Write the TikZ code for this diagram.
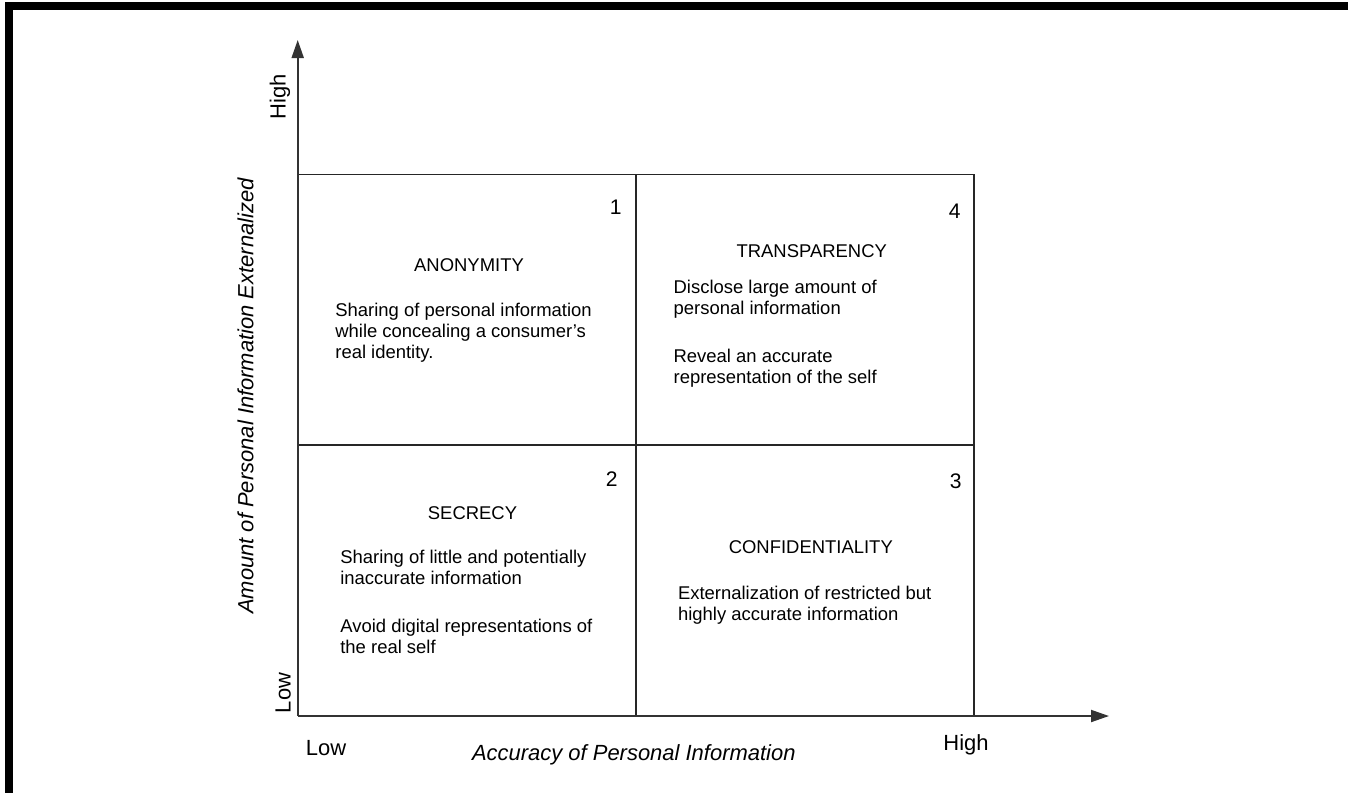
\documentclass[tikz,border=0pt]{standalone}
\usepackage{fontspec}
\setmainfont{Liberation Sans}
\usetikzlibrary{arrows.meta}

\begin{document}
\begin{tikzpicture}[x=0.02cm, y=-0.02cm,
	axis/.style={draw=black!80, line width=1.1pt, -{Triangle[length=0.36cm,width=0.24cm]}},
	grid/.style={draw=black!85, line width=1.1pt},
	num/.style={font=\fontsize{12}{14}\selectfont, anchor=base east, inner sep=0pt},
	head/.style={font=\fontsize{10.5}{12}\selectfont, anchor=base, inner sep=0pt},
	body/.style={font=\fontsize{10.5}{11.95}\selectfont, align=left, anchor=base west, inner sep=0pt},
	lbl/.style={font=\fontsize{12.5}{15}\selectfont, anchor=base, inner sep=0pt}]
	\useasboundingbox (0,0) rectangle (1348,792);
	% outer frame
	\draw[line width=0.16cm] (9,830) rectangle (1352,6);

	\coordinate (origin) at (297.7,716);
	\coordinate (ytop) at (297.7,40);
	\coordinate (xend) at (1109,716);
	\coordinate (tl) at (297.7,174.5);
	\coordinate (tm) at (635.7,174.5);
	\coordinate (tr) at (974.3,174.5);
	\coordinate (ml) at (297.7,445);
	\coordinate (mr) at (974.3,445);
	\coordinate (bm) at (635.7,716);
	\coordinate (br) at (974.3,716);

	% quadrants
	\draw[grid] (tl) -- (tr) -- (br);
	\draw[grid] (tm) -- (bm);
	\draw[grid] (ml) -- (mr);

	% axes
	\draw[axis] (origin) -- (ytop);
	\draw[axis] (origin) -- (xend);

	% 1 (body nodes sit on their last line)
	\node[num] (num1) at (622,214.3) {1};
	\node[head] (head1) at (469,271) {ANONYMITY};
	\node[body] (text1) at (335,358.3) {Sharing of personal information\\while concealing a consumer’s\\real identity.};
	% 4
	\node[num] (num4) at (961,218) {4};
	\node[head] (head4) at (811.7,257) {TRANSPARENCY};
	\node[body] (text4) at (673.3,383.3) {Disclose large amount of\\personal information\\[15.4pt]Reveal an accurate\\representation of the self};
	% 2
	\node[num] (num2) at (618,486.7) {2};
	\node[head] (head2) at (472.5,519) {SECRECY};
	\node[body] (text2) at (340,653.3) {Sharing of little and potentially\\inaccurate information\\[15.4pt]Avoid digital representations of\\the real self};
	% 3
	\node[num] (num3) at (962,488) {3};
	\node[head] (head3) at (810.8,553.3) {CONFIDENTIALITY};
	\node[body] (text3) at (677.7,620) {Externalization of restricted but\\highly accurate information};

	% axis labels
	\node[lbl, rotate=90] (yhigh) at (285.7,97) {High};
	\node[lbl, rotate=90] (ylow) at (290.7,693) {Low};
	\node[lbl, rotate=90] (ytitle) at (253.3,396) {\itshape Amount of Personal Information Externalized};
	\node[lbl] (xlow) at (326,755) {Low};
	\node[lbl, anchor=base west] (xtitle) at (471.7,760.7) {\itshape Accuracy of Personal Information};
	\node[lbl] (xhigh) at (966,750.7) {High};
\end{tikzpicture}
\end{document}
